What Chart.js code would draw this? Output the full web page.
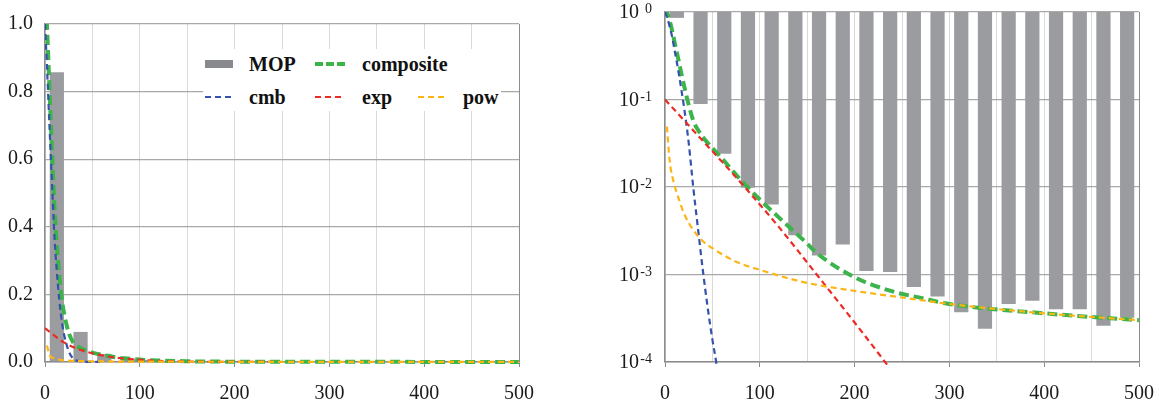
<!DOCTYPE html>
<html>
<head>
<meta charset="utf-8">
<script src="https://cdn.jsdelivr.net/npm/chart.js@4.4.0/dist/chart.umd.min.js"></script>
<style>
body { margin:0; background:#fff; width:1159px; height:405px; overflow:hidden; position:relative; font-family:"Liberation Serif", serif; }
#boxLin { position:absolute; left:0; top:0; width:549px; height:405px; }
#boxLog { position:absolute; left:580px; top:0; width:589px; height:405px; }
#legend { position:absolute; left:203px; top:49px; width:298px; height:62px; background:#fff; }
#legend svg { position:absolute; }
#legend span { position:absolute; font-weight:bold; font-size:20px; line-height:20px; color:#111; white-space:nowrap; }
</style>
</head>
<body>
<div id="boxLin"><canvas id="linChart"></canvas></div>
<div id="boxLog"><canvas id="logChart"></canvas></div>
<div id="legend">
  <svg style="left:2px;top:10px" width="30" height="10"><rect x="0" y="1" width="28" height="8" fill="#88898c"/></svg>
  <span style="left:46px;top:5px">MOP</span>
  <svg style="left:112px;top:10px" width="32" height="10"><line x1="0" y1="5" x2="32" y2="5" stroke="#3cb44b" stroke-width="4" stroke-dasharray="8 3"/></svg>
  <span style="left:159px;top:5px">composite</span>
  <svg style="left:2px;top:43px" width="30" height="10"><line x1="0" y1="5" x2="30" y2="5" stroke="#3453ab" stroke-width="2.2" stroke-dasharray="6 4"/></svg>
  <span style="left:46px;top:38px">cmb</span>
  <svg style="left:112px;top:43px" width="30" height="10"><line x1="0" y1="5" x2="30" y2="5" stroke="#ee2a24" stroke-width="2.2" stroke-dasharray="6 4"/></svg>
  <span style="left:159px;top:38px">exp</span>
  <svg style="left:215px;top:43px" width="30" height="10"><line x1="0" y1="5" x2="30" y2="5" stroke="#fdb515" stroke-width="2.2" stroke-dasharray="6 4"/></svg>
  <span style="left:260px;top:38px">pow</span>
</div>
<script>
// histogram bins (centres) and MOP values
var binX = [12.5, 37.5, 62.5, 87.5, 112.5, 137.5, 162.5, 187.5, 212.5, 237.5,
            262.5, 287.5, 312.5, 337.5, 362.5, 387.5, 412.5, 437.5, 462.5, 487.5];
var mopY = [0.857, 0.089, 0.024, 0.0098, 0.0063, 0.0028, 0.00165, 0.0022, 0.0011, 0.00107,
            0.00072, 0.00056, 0.00037, 0.00024, 0.00046, 0.0005, 0.0004, 0.0004, 0.00026, 0.00032];

var compX = [0, 2, 5, 8, 10, 12, 15, 18, 20, 25, 30, 35, 40, 50, 60, 75, 84, 100, 120, 150, 160, 200, 240, 270, 300, 400, 500];
var compY = [1.1, 1.0, 0.787, 0.583, 0.457, 0.366, 0.259, 0.182, 0.146, 0.0866, 0.0568, 0.0444, 0.0371, 0.0278, 0.0212,
             0.0138, 0.0108, 0.0072, 0.0045, 0.00225, 0.00176, 0.00093, 0.00064, 0.00054, 0.00046, 0.00036, 0.0003];

var cmbX = [0, 2, 5, 8, 10, 12, 15, 18, 20, 25, 30, 35, 40, 45, 50, 54, 58];
var cmbY = [1.0, 0.88, 0.68, 0.49, 0.37, 0.285, 0.185, 0.115, 0.083, 0.032, 0.0095, 0.0032, 0.0011, 0.00042, 0.00018, 0.0001, 0.00005];

var expX = [0, 20, 40, 60, 84, 120, 160, 200, 240];
var expY = [0.1, 0.058, 0.0336, 0.0195, 0.01, 0.0035, 0.001, 0.000283, 0.0000776];

var powX = [2, 5, 10, 15, 20, 30, 40, 50, 75, 100, 150, 200, 270, 300, 400, 500];
var powY = [0.049, 0.0196, 0.0105, 0.0071, 0.005, 0.0032, 0.0024, 0.002, 0.0014, 0.00113, 0.0008, 0.00065, 0.00051, 0.00046, 0.00036, 0.0003];

var linTicks = [0, 0.2, 0.4, 0.6, 0.8, 1.0];
var logTicks = [1, 0.1, 0.01, 0.001, 0.0001];
var logExp = ['0', '-1', '-2', '-3', '-4'];

var axisColor = '#8c8c8c';
var barColor = '#9b9ca0';

Chart.defaults.font.family = '"Liberation Serif", serif';
Chart.defaults.font.size = 20;
Chart.defaults.color = '#1a1a1a';

function pts(xs, ys) {
    return xs.map(function (x, i) { return { x: x, y: ys[i] }; });
}

function line(label, xs, ys, color, w, dash, order) {
    return {
        type: 'line', label: label, data: pts(xs, ys),
        borderColor: color, borderWidth: w, borderDash: dash,
        pointRadius: 0, fill: false, cubicInterpolationMode: 'monotone',
        clip: { left: 0, top: 0, right: 0, bottom: 3 }, order: order
    };
}

// draws 10^n labels on the log axis
var logLabels = {
    id: 'logLabels',
    afterDraw: function (chart) {
        if (!chart.options.isLog) return;
        var y = chart.scales.y, ctx = chart.ctx;
        ctx.save();
        ctx.fillStyle = '#1a1a1a';
        logTicks.forEach(function (v, i) {
            var py = y.getPixelForValue(v);
            ctx.font = '20px "Liberation Serif"';
            ctx.textAlign = 'right';
            ctx.textBaseline = 'middle';
            ctx.fillText('10', 59, py + 1);
            ctx.font = '14px "Liberation Serif"';
            ctx.textBaseline = 'alphabetic';
            ctx.fillText(logExp[i], 72, py + 1);
        });
        ctx.restore();
    }
};

function makeChart(id, isLog) {
    var bars = binX.map(function (x, i) {
        return { x: x, y: isLog ? [mopY[i], 1] : mopY[i] };
    });
    var yScale = isLog ? {
        type: 'logarithmic', min: 0.0001, max: 1,
        afterBuildTicks: function (s) { s.ticks = logTicks.map(function (v) { return { value: v }; }); },
        afterFit: function (s) { s.width = 85; },
        ticks: { display: false },
        grid: { color: '#a9a9a9', lineWidth: 1.3, drawTicks: false },
        border: { color: axisColor, width: 1.5 }
    } : {
        type: 'linear', min: 0, max: 1,
        afterBuildTicks: function (s) { s.ticks = linTicks.map(function (v) { return { value: v }; }); },
        afterFit: function (s) { s.width = 45; },
        ticks: { padding: 12, callback: function (v) { return v.toFixed(1); } },
        grid: { color: '#a9a9a9', lineWidth: 1.3, drawTicks: false },
        border: { color: axisColor, width: 1.5 }
    };
    return new Chart(document.getElementById(id), {
        type: 'bar',
        data: {
            datasets: [
                { type: 'bar', label: 'MOP', data: bars, backgroundColor: barColor,
                  barPercentage: 0.6, categoryPercentage: 1, order: 10 },
                line('composite', compX, compY, '#3cb44b', 4, [10, 5], 5),
                line('cmb', cmbX, cmbY, '#3453ab', 2.2, [6, 4], 4),
                line('exp', expX, expY, '#ee2a24', 2.2, [6, 4], 3),
                line('pow', powX, powY, '#fdb515', 2.2, [6, 4], 2)
            ]
        },
        options: {
            isLog: isLog,
            responsive: true,
            maintainAspectRatio: false,
            animation: false,
            events: [],
            layout: { padding: { top: 12, right: 0, left: 0, bottom: 0 } },
            plugins: { legend: { display: false }, tooltip: { enabled: false } },
            scales: {
                x: {
                    type: 'linear', min: 0, max: 500, offset: false,
                    afterFit: function (s) { s.height = 43; },
                    ticks: { stepSize: 50, autoSkip: false, maxRotation: 0, padding: 15,
                             callback: function (v) { return v % 100 === 0 ? v : ''; } },
                    grid: {
                        offset: false, lineWidth: 1, tickLength: 5,
                        color: function (c) { return c.tick && c.tick.value === 500 ? axisColor : '#d9d9d9'; },
                        tickColor: function (c) { return c.tick && c.tick.value % 100 === 0 ? axisColor : 'rgba(0,0,0,0)'; }
                    },
                    border: { color: axisColor, width: 1.5 }
                },
                y: yScale
            }
        },
        plugins: [logLabels]
    });
}

makeChart('linChart', false);
makeChart('logChart', true);
</script>
</body>
</html>
